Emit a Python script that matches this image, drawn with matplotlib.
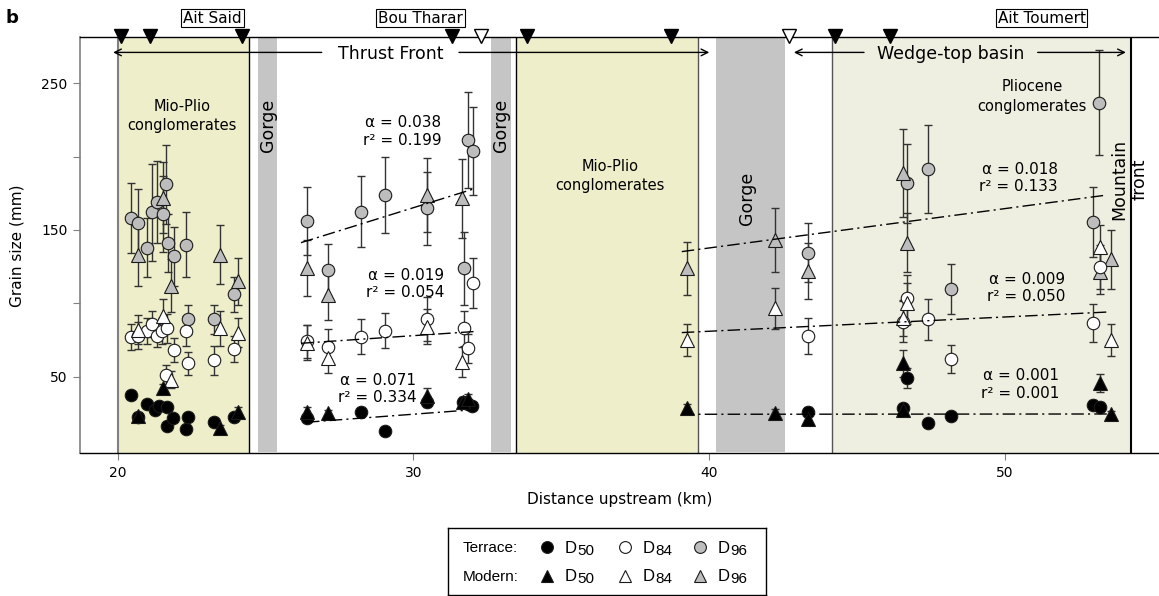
"""
Grain size vs distance upstream, panel b.
Terrace and modern D50 / D84 / D96 with exponential fit lines.
"""

import matplotlib
matplotlib.use("Agg")
import matplotlib.pyplot as plt
from matplotlib.patches import Rectangle

# ----------------------------------------------------------
# DATA
# ----------------------------------------------------------
terr_d50_x = [20.47, 20.70, 20.98, 21.26, 21.40, 21.68, 21.66, 21.88, 22.31, 22.39, 23.26, 23.94,
              26.39, 28.23, 29.04, 30.45, 31.68, 31.85, 31.99,
              43.35, 46.67, 46.54, 47.38, 48.17, 52.96, 53.21]
terr_d50_y = [37.5, 22.7, 31, 27, 30, 29.5, 16, 22, 14, 22.7, 19, 22.7,
              21.6, 25.7, 13.2, 33, 33, 31.5, 30,
              26, 48.9, 28.4, 18.2, 23.2, 30.7, 29.5]
terr_d50_err = [3, 2, 2, 2, 2, 2, 2, 2, 2, 2, 2, 2,
                2, 2, 1, 4, 3, 3, 3,
                3, 7, 3, 2, 2, 3, 3]

terr_d84_x = [20.45, 20.68, 20.98, 21.18, 21.32, 21.51, 21.68, 21.63, 21.91, 22.31, 22.39, 23.26, 23.94,
              26.39, 27.10, 28.23, 29.04, 30.47, 31.71, 31.85, 32.0,
              43.35, 46.67, 46.54, 47.38, 48.17, 52.96, 53.21]
terr_d84_y = [77, 78, 81, 86, 78, 81, 83, 51, 68, 81, 59, 61, 69,
              74, 70.4, 77.2, 81.3, 89, 83, 69.3, 114,
              77.7, 103.4, 87.5, 89, 62, 86.4, 124.5]
terr_d84_err = [9, 9, 9, 9, 8, 9, 10, 7, 8, 10, 8, 10, 9,
                11, 12, 12, 12, 15, 12, 10, 17,
                12, 16, 14, 14, 9.5, 13, 15]

terr_d96_x = [20.47, 20.68, 21.0, 21.18, 21.32, 21.54, 21.63, 21.69, 21.91, 22.31, 22.39, 23.26, 23.94,
              26.39, 27.10, 28.23, 29.04, 30.45, 31.71, 31.85, 32.0,
              43.35, 46.67, 47.38, 48.17, 53.18, 52.96]
terr_d96_y = [158, 155, 138, 162, 169, 161, 181, 141, 132, 140, 89, 89, 106,
              156, 122.7, 162.5, 173.8, 164.8, 123.8, 211.3, 203.8,
              134.5, 181.8, 191.3, 109.5, 236.8, 155.2]
terr_d96_err = [24, 23, 20, 33, 28, 26, 27, 20, 20, 22, 10, 10, 12,
                23, 18, 24, 26, 25, 25, 33, 30,
                20, 27, 30, 17, 36, 24]

mod_d50_x = [20.68, 21.54, 23.46, 24.06, 26.39, 27.10, 30.45, 31.66, 31.85,
             39.24, 42.22, 43.35, 46.54, 46.54, 53.21, 53.57]
mod_d50_y = [23, 42, 15, 26, 26, 25.5, 37, 33, 35,
             28.4, 25, 21, 59, 27, 45.5, 24.3]
mod_d50_err = [2, 3, 2, 3, 3, 2, 5, 3, 3,
               3, 3, 2, 9, 3, 6, 2]

mod_d84_x = [20.68, 21.54, 21.79, 23.46, 24.06, 26.39, 27.10, 30.45, 31.63,
             39.24, 42.22, 46.67, 46.54, 53.21, 53.57]
mod_d84_y = [82, 91, 48, 83, 80, 73, 62.5, 84, 60,
             75, 96.6, 100, 90, 138.2, 75]
mod_d84_err = [10, 12, 6, 12, 10, 12, 10, 12, 10,
               11, 14, 14, 12, 15, 11]

mod_d96_x = [20.68, 21.54, 21.79, 23.46, 24.06, 26.39, 27.10, 30.45, 31.63,
             39.24, 42.22, 43.35, 46.54, 46.67, 53.21, 53.57]
mod_d96_y = [133, 172, 112, 133, 115, 123.8, 105.7, 173.8, 171.6,
             123.8, 143, 122.2, 188.6, 141.3, 121.5, 130]
mod_d96_err = [21, 24, 18, 20, 16, 19, 17, 25, 27,
               18, 21.6, 19, 30, 20, 15, 20]

# fit lines: x start/end and y start/end, with their labels
fit_x = [(26.2, 32.05), (26.2, 32.05), (26.4, 31.95),
         (39.07, 53.45), (39.07, 53.45), (39.07, 53.45)]
fit_y = [(141.3, 178.0), (72.7, 80.7), (18.9, 27.3),
         (135.2, 173.8), (80.0, 94.0), (24.3, 24.5)]
fit_alpha = ["0.038", "0.019", "0.071", "0.018", "0.009", "0.001"]
fit_r2 = ["0.199", "0.054", "0.334", "0.133", "0.050", "0.001"]
fit_label_x = [30.95, 31.03, 30.10, 51.77, 52.03, 51.83]
fit_label_y = [217, 113.3, 41.5, 185.2, 110.2, 44.6]

# map zones
mio_plio_zones = [(20.0, 24.45), (33.47, 39.63)]
gorge_zones = [(24.75, 25.40), (32.62, 33.29), (40.23, 42.56)]
wedge_zone = (44.14, 54.25)

# sample sites along the top axis (True = open marker)
site_x = [20.1, 21.1, 24.2, 31.3, 32.3, 33.85, 38.7, 42.7, 44.25, 46.1]
site_open = [False, False, False, False, True, False, False, True, False, False]

town_names = ["Ait Said", "Bou Tharar", "Ait Toumert"]
town_x = [23.21, 30.24, 51.23]

# ----------------------------------------------------------
# FIGURE
# ----------------------------------------------------------
W, H = 1159, 596
fig = plt.figure(figsize=(W / 100, H / 100), dpi=100)
ax = fig.add_axes([80 / W, 1 - 453.3 / H, 1 - 80 / W, (453.3 - 37.3) / H])
ax.set_xlim(18.73, 55.2)
ax.set_ylim(-2.3, 281.3)

YELLOW = "#EEEECB"
WEDGE = "#EFEFE1"
GORGE = "#C5C5C5"
GREY = "#BDBDBD"

for x0, x1 in mio_plio_zones:
    ax.axvspan(x0, x1, color=YELLOW, zorder=0, lw=0)
ax.axvspan(*wedge_zone, color=WEDGE, zorder=0, lw=0)
for x0, x1 in gorge_zones:
    ax.add_patch(Rectangle((x0, -1.2), x1 - x0, 300, color=GORGE, lw=0, zorder=0.5))

ax.axvline(20.0, color="#808080", lw=1.5, zorder=1)
ax.axvline(24.45, color="k", lw=1, zorder=1)
ax.axvline(33.47, color="k", lw=1, zorder=1)
ax.axvline(39.63, color="#555555", lw=1, zorder=1)
ax.axvline(44.14, color="#555555", lw=1, zorder=1)
ax.axvline(wedge_zone[1], color="k", lw=1.5, zorder=1)

# --- error bars then markers ---
series = [
    (terr_d96_x, terr_d96_y, terr_d96_err, "o", GREY),
    (mod_d96_x, mod_d96_y, mod_d96_err, "^", GREY),
    (terr_d84_x, terr_d84_y, terr_d84_err, "o", "white"),
    (mod_d84_x, mod_d84_y, mod_d84_err, "^", "white"),
    (terr_d50_x, terr_d50_y, terr_d50_err, "o", "black"),
    (mod_d50_x, mod_d50_y, mod_d50_err, "^", "black"),
]
for xs, ys, es, mk, fc in series:
    ax.errorbar(xs, ys, yerr=es, fmt="none", ecolor="#333333", elinewidth=1,
                capsize=3, capthick=1, zorder=2)
for xs, ys, es, mk, fc in series:
    ax.plot(xs, ys, ls="none", marker=mk, ms=9.5 if mk == "^" else 9, mfc=fc,
            mec="#1a1a1a", mew=0.8, zorder=3)

# --- fit lines + labels ---
for (x0, x1), (y0, y1) in zip(fit_x, fit_y):
    ax.plot([x0, x1], [y0, y1], color="k", lw=1, ls=(0, (9, 3, 1.5, 3)), zorder=4)
for lx, ly, a, r2 in zip(fit_label_x, fit_label_y, fit_alpha, fit_r2):
    ax.text(lx, ly, f"\u03b1 = {a}\nr\u00b2 = {r2}", ha="right", va="center",
            fontsize=11, multialignment="right", linespacing=1.2, zorder=5)

# --- zone labels ---
ax.text(22.18, 227.6, "Mio-Plio\nconglomerates", ha="center", va="center",
        fontsize=10.5, linespacing=1.35, zorder=5)
ax.text(36.65, 186.5, "Mio-Plio\nconglomerates", ha="center", va="center",
        fontsize=10.5, linespacing=1.35, zorder=5)
ax.text(50.9, 241, "Pliocene\nconglomerates", ha="center", va="center",
        fontsize=10.5, linespacing=1.35, zorder=5)
for gx, gy in [(25.08, 221), (32.96, 221), (41.27, 171.8)]:
    ax.text(gx, gy, "Gorge", rotation=90, ha="center", va="center", fontsize=12.5, zorder=5)
ax.text(54.21, 184.7, "Mountain\nfront", rotation=90, ha="center", va="center",
        fontsize=12.5, linespacing=1.2, zorder=5)

# --- thrust front / wedge-top arrows ---
arrow_kw = dict(arrowstyle="->", color="k", lw=1, shrinkA=0, shrinkB=0, mutation_scale=12)
ay = 271
ax.annotate("", xy=(19.85, ay), xytext=(26.9, ay), arrowprops=arrow_kw, zorder=6)
ax.annotate("", xy=(40.0, ay), xytext=(31.54, ay), arrowprops=arrow_kw, zorder=6)
ax.text(29.24, 270, "Thrust Front", ha="center", va="center", fontsize=12.5, zorder=6)
ax.annotate("", xy=(42.86, ay), xytext=(45.23, ay), arrowprops=arrow_kw, zorder=6)
ax.annotate("", xy=(54.08, ay), xytext=(51.1, ay), arrowprops=arrow_kw, zorder=6)
ax.text(48.17, 270, "Wedge-top basin", ha="center", va="center", fontsize=12.5, zorder=6)

# --- sample sites on the top axis ---
for sx, op in zip(site_x, site_open):
    ax.plot([sx], [282.5], marker="v", ms=10, mfc="white" if op else "black",
            mec="black", mew=1, clip_on=False, zorder=10)
for name, tx in zip(town_names, town_x):
    ax.text(tx, 1.046, name, transform=ax.get_xaxis_transform(), ha="center", va="center",
            fontsize=11, bbox=dict(boxstyle="square,pad=0.12", fc="white", ec="k", lw=0.8))

# --- axes styling ---
ax.spines["right"].set_visible(False)
ax.spines["left"].set_color("#808080")
ax.spines["left"].set_linewidth(1.2)
ax.spines["top"].set_linewidth(1)
ax.spines["bottom"].set_linewidth(1)
ax.set_yticks([50, 100, 150, 200, 250])
ax.set_yticklabels(["50", "", "150", "", "250"])
ax.set_xticks([20, 30, 40, 50])
ax.tick_params(direction="out", length=5, color="#808080", labelsize=10, pad=4)
ax.set_xlabel("Distance upstream (km)", fontsize=11, labelpad=9)
ax.set_ylabel("Grain size (mm)", fontsize=11, labelpad=12)

fig.text(12 / W, 1 - 18 / H, "b", fontweight="bold", fontsize=13, ha="center", va="center")

# ----------------------------------------------------------
# LEGEND (hand-built box at the bottom)
# ----------------------------------------------------------
lx0, lx1, ly0, ly1 = 448.3, 765.7, 527.7, 595.0
lg = fig.add_axes([lx0 / W, 1 - ly1 / H, (lx1 - lx0) / W, (ly1 - ly0) / H])
lg.set_xlim(0, lx1 - lx0)
lg.set_ylim(ly1 - ly0, 0)
lg.set_xticks([])
lg.set_yticks([])
for sp in lg.spines.values():
    sp.set_linewidth(1)

legend_rows = ["Terrace:", "Modern:"]
legend_markers = ["o", "^"]
legend_fills = ["black", "white", GREY]
legend_subs = ["50", "84", "96"]
row_y = [20.6, 49.0]
mk_x = [99.0, 176.7, 251.7]
for r, (label, mk) in enumerate(zip(legend_rows, legend_markers)):
    lg.text(14.4, row_y[r], label, ha="left", va="center", fontsize=11,
            family="Liberation Sans")
    for mx, fc, sub in zip(mk_x, legend_fills, legend_subs):
        lg.plot([mx], [row_y[r] - 1], marker=mk, ms=8.5, mfc=fc, mec="#1a1a1a", mew=0.8,
                ls="none")
        lg.text(mx + 17.7, row_y[r], "D", ha="left", va="center", fontsize=12,
                family="Liberation Sans")
        lg.text(mx + 30.0, row_y[r] + 2.3, sub, ha="left", va="center", fontsize=11,
                family="Liberation Sans")

fig.savefig("out.png", dpi=100)
